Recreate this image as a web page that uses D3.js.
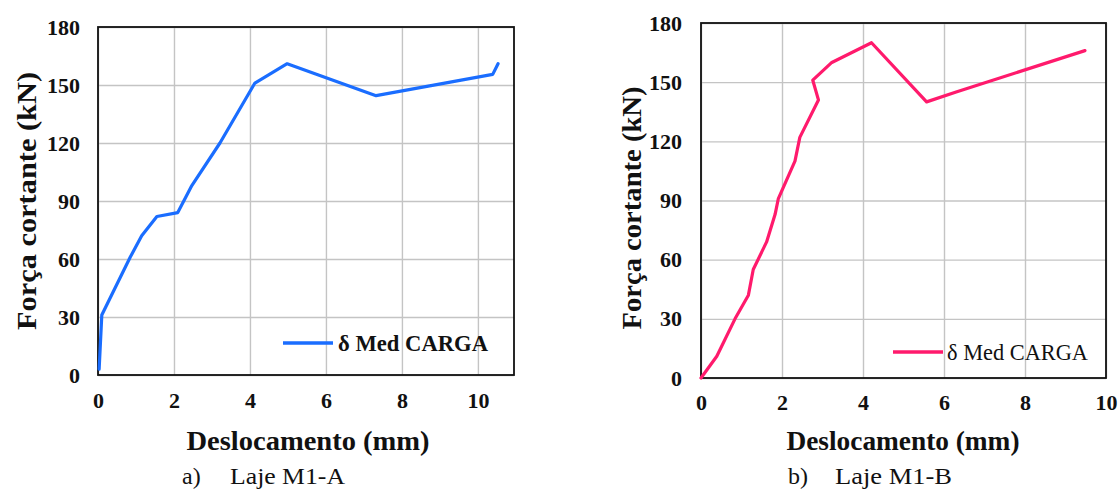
<!DOCTYPE html>
<html>
<head>
<meta charset="utf-8">
<script src="https://cdn.jsdelivr.net/npm/d3@7"></script>
<style>
  html, body { margin: 0; padding: 0; background: #fff; }
  svg { display: block; }
</style>
</head>
<body>
<svg id="chart" width="1120" height="496"></svg>
<script>
// Shear force vs. displacement for the two slabs
const dispA  = [0.03, 0.10, 0.85, 1.15, 1.55, 2.10, 2.47, 3.21, 4.13, 4.98, 7.32, 10.39, 10.53];
const forceA = [3, 31, 61, 72, 82, 84, 98, 120, 151, 161, 144.5, 155.5, 161];

const dispB  = [0, 0.39, 0.84, 1.17, 1.29, 1.62, 1.83, 1.91, 2.32, 2.44, 2.90, 2.76, 3.23, 4.21, 5.57, 6.30, 9.48];
const forceB = [0, 11, 30, 42, 55, 69, 83, 91, 110, 122, 141, 151, 160, 170, 140, 145, 166];

const yTicks = [0, 30, 60, 90, 120, 150, 180];
const xTicks = [0, 2, 4, 6, 8, 10];

const xTitle = "Deslocamento (mm)";
const yTitle = "Força cortante (kN)";
const legendLabel = "δ Med CARGA";
const captions = ["a)", "b)"];
const slabNames = ["Laje M1-A", "Laje M1-B"];

const SERIF = '"Liberation Serif"';
const INK = "#111";

const panels = [
  {
    disp: dispA, force: forceA, xMax: 10.95, color: "#1a6dff",
    left: 98, right: 514, top: 27, bottom: 375,
    yPad: 18, xPad: 17,
    yTitleX: 36, yTitleLen: 258, yTitleMid: 201,
    xTitleX: 308, xTitleLen: 243,
    legend: { x1: 283, x2: 333, y: 343, tx: 338, len: 150, weight: "bold" },
    cap: { ax: 182, lx: 230, llen: 115 }
  },
  {
    disp: dispB, force: forceB, xMax: 10, color: "#ff1a6c",
    left: 701, right: 1106, top: 23, bottom: 378,
    yPad: 19, xPad: 16,
    yTitleX: 641, yTitleLen: 243, yTitleMid: 208,
    xTitleX: 903, xTitleLen: 233,
    legend: { x1: 893, x2: 943, y: 352, tx: 947, len: 141, weight: "normal" },
    cap: { ax: 788, lx: 835, llen: 117 }
  }
];

const svg = d3.select("#chart");

function styleText(sel, size, weight) {
  sel.style("font-family", SERIF)
     .style("font-size", size + "px")
     .style("font-weight", weight)
     .style("fill", INK);
}

panels.forEach((p, i) => {
  const x = d3.scaleLinear().domain([0, p.xMax]).range([p.left, p.right]);
  const y = d3.scaleLinear().domain([0, 180]).range([p.bottom, p.top]);
  const w = p.right - p.left, h = p.bottom - p.top;
  const g = svg.append("g");

  // grid
  g.append("g")
    .attr("transform", `translate(${p.left},0)`)
    .call(d3.axisLeft(y).tickValues(yTicks).tickSize(-w).tickFormat(""))
    .call(a => a.select(".domain").remove())
    .selectAll("line").attr("stroke", "#c4c4c4").attr("stroke-width", 1.4);
  g.append("g")
    .attr("transform", `translate(0,${p.bottom})`)
    .call(d3.axisBottom(x).tickValues(xTicks).tickSize(-h).tickFormat(""))
    .call(a => a.select(".domain").remove())
    .selectAll("line").attr("stroke", "#c4c4c4").attr("stroke-width", 1.4);

  // frame
  g.append("rect")
    .attr("x", p.left).attr("y", p.top).attr("width", w).attr("height", h)
    .attr("fill", "none").attr("stroke", INK).attr("stroke-width", 1.8);

  // tick labels
  g.append("g")
    .attr("transform", `translate(${p.left},0)`)
    .attr("font-family", null)
    .call(d3.axisLeft(y).tickValues(yTicks).tickSize(0).tickPadding(p.yPad))
    .call(a => a.select(".domain").remove())
    .selectAll("text").call(styleText, 22, "bold");
  g.append("g")
    .attr("transform", `translate(0,${p.bottom})`)
    .call(d3.axisBottom(x).tickValues(xTicks).tickSize(0).tickPadding(p.xPad))
    .call(a => a.select(".domain").remove())
    .selectAll("text").call(styleText, 22, "bold");

  // series
  const pts = p.disp.map((d, k) => [d, p.force[k]]);
  g.append("path")
    .datum(pts)
    .attr("fill", "none")
    .attr("stroke", p.color)
    .attr("stroke-width", 3.2)
    .attr("stroke-linejoin", "round")
    .attr("stroke-linecap", "round")
    .attr("d", d3.line().x(d => x(d[0])).y(d => y(d[1])));

  // legend
  g.append("line")
    .attr("x1", p.legend.x1).attr("x2", p.legend.x2)
    .attr("y1", p.legend.y).attr("y2", p.legend.y)
    .attr("stroke", p.color).attr("stroke-width", 3.4);
  g.append("text")
    .attr("x", p.legend.tx).attr("y", p.legend.y + 8)
    .attr("textLength", p.legend.len).attr("lengthAdjust", "spacingAndGlyphs")
    .call(styleText, 23, p.legend.weight)
    .text(legendLabel);

  // axis titles
  g.append("text")
    .attr("x", p.xTitleX).attr("y", 450)
    .attr("text-anchor", "middle")
    .attr("textLength", p.xTitleLen).attr("lengthAdjust", "spacingAndGlyphs")
    .call(styleText, 27, "bold")
    .text(xTitle);
  g.append("text")
    .attr("transform", `translate(${p.yTitleX},${p.yTitleMid}) rotate(-90)`)
    .attr("text-anchor", "middle")
    .attr("textLength", p.yTitleLen).attr("lengthAdjust", "spacingAndGlyphs")
    .call(styleText, 28, "bold")
    .text(yTitle);

  // caption
  g.append("text")
    .attr("x", p.cap.ax).attr("y", 484)
    .call(styleText, 24, "normal")
    .text(captions[i]);
  g.append("text")
    .attr("x", p.cap.lx).attr("y", 484)
    .attr("textLength", p.cap.llen).attr("lengthAdjust", "spacingAndGlyphs")
    .call(styleText, 24, "normal")
    .text(slabNames[i]);
});
</script>
</body>
</html>
